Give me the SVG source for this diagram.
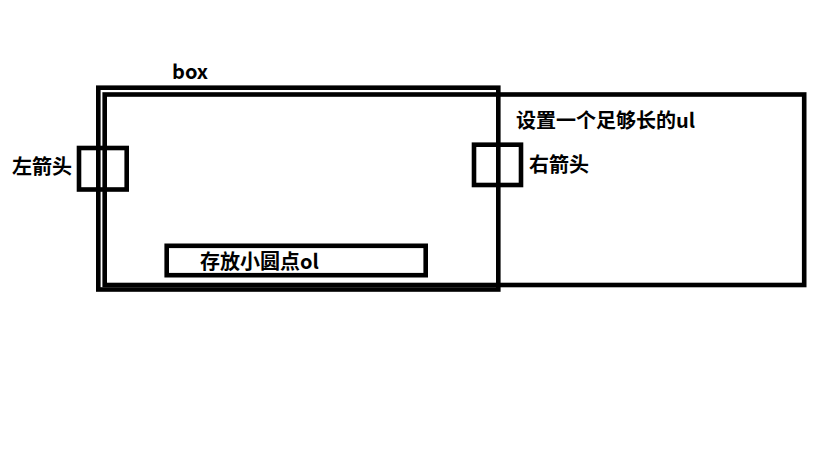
<svg xmlns="http://www.w3.org/2000/svg" width="819" height="460" viewBox="0 0 819 460">
<style>
.frame{fill:none;stroke:#000;stroke-width:4.6}
.lbl{font-family:"Noto Sans CJK SC","Microsoft YaHei",sans-serif;font-weight:bold;font-size:20px;fill:#000}
</style>
<rect width="819" height="460" fill="#fff"/>
<g id="ul">
<rect class="frame" x="104.7" y="94.5" width="699.5" height="190.5"/>
<text class="lbl" x="516" y="128">设置一个足够长的ul</text>
</g>
<g id="box">
<rect class="frame" x="98.3" y="87.7" width="400" height="201.8"/>
<text class="lbl" x="172" y="79">box</text>
</g>
<g id="left-arrow">
<rect class="frame" x="79" y="148" width="47.7" height="41.5"/>
<text class="lbl" x="12" y="174">左箭头</text>
</g>
<g id="right-arrow">
<rect class="frame" x="474" y="144.7" width="47" height="40.3"/>
<text class="lbl" x="529" y="172">右箭头</text>
</g>
<g id="ol">
<rect class="frame" x="166.7" y="245.8" width="259" height="29.4"/>
<text class="lbl" x="200" y="269">存放小圆点ol</text>
</g>
<g id="connectors"/>
</svg>
